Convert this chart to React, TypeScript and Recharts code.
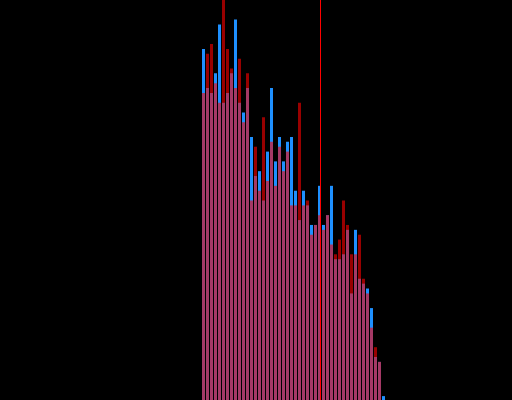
import React from "react";
import { BarChart, Bar, XAxis, YAxis, ReferenceLine } from "recharts";

const BINS: string[] = Array.from({ length: 46 }, (_, i) => String(i));

const BLUE_COUNTS = [
  72, 64, 63, 67, 77, 61, 63, 67, 78, 61,
  59, 64, 54, 46, 47, 41, 51, 64, 49, 54,
  49, 53, 54, 43, 37, 43, 40, 36, 36, 44,
  36, 38, 44, 29, 29, 30, 35, 22, 35, 25,
  24, 23, 19, 9, 8, 1,
];

const RED_COUNTS = [
  63, 71, 73, 65, 61, 84, 72, 68, 64, 70,
  57, 67, 41, 52, 43, 58, 45, 53, 44, 52,
  47, 51, 40, 40, 61, 40, 41, 34, 36, 38,
  35, 38, 32, 30, 33, 41, 36, 30, 30, 34,
  25, 22, 15, 11, 8, 0,
];

const MARKER_BIN = "30";

const data = BINS.map((b, i) => ({ bin: b, blue: BLUE_COUNTS[i], red: RED_COUNTS[i] }));

export default function App() {
  return (
    <div
      style={{
        position: "fixed",
        left: 0,
        top: 0,
        width: 512,
        height: 400,
        overflow: "hidden",
        background: "#000000",
      }}
    >
      <BarChart
        width={512}
        height={401}
        data={data}
        margin={{ top: 0, right: 127, bottom: 0, left: 201 }}
        barSize={3}
        barGap={-3}
        barCategoryGap={0}
      >
        <XAxis dataKey="bin" xAxisId="cat" hide />
        <XAxis dataKey="bin" xAxisId="line" hide padding={{ left: -0.5, right: 0.5 }} />
        <YAxis domain={[0, 82]} hide allowDataOverflow />
        <Bar dataKey="blue" xAxisId="cat" fill="#1E90FF" isAnimationActive={false} />
        <Bar dataKey="red" xAxisId="cat" fill="#FF0000" fillOpacity={0.6} isAnimationActive={false} />
        <ReferenceLine x={MARKER_BIN} xAxisId="line" position="start" stroke="#FF0000" strokeWidth={1} />
      </BarChart>
    </div>
  );
}
